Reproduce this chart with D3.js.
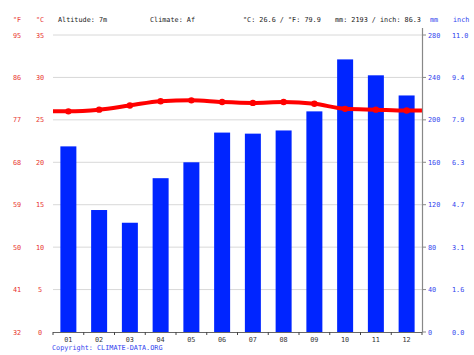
<!DOCTYPE html>
<html><head><meta charset="utf-8">
<script src="https://cdn.jsdelivr.net/npm/d3@7"></script>
<style>body{margin:0;background:#fff}svg{display:block}text{font-family:"DejaVu Sans Mono",monospace;font-size:6.8px}</style>
</head><body><svg id="c" width="474" height="355"></svg>
<script>
const months = ["01","02","03","04","05","06","07","08","09","10","11","12"];
const precipMm = [175,115,103,145,160,188,187,190,208,257,242,223];
const tempC = [26.0,26.2,26.7,27.2,27.3,27.1,27.0,27.1,26.9,26.3,26.2,26.1];
const cTicks = [0,5,10,15,20,25,30,35];
const fLabels = ["32","41","50","59","68","77","86","95"];
const mmTicks = [0,40,80,120,160,200,240,280];
const inchLabels = ["0.0","1.6","3.1","4.7","6.3","7.9","9.4","11.0"];

const svg = d3.select("#c");
const L = 53, R = 422, T = 35, B = 332;
const x = d3.scaleBand().domain(months).range([L, R]).paddingInner(0.48).paddingOuter(0.24);
const xc = d3.scalePoint().domain(months).range([L, R]).padding(0.5);
const yT = d3.scaleLinear().domain([0, 35]).range([B, T]);
const yP = d3.scaleLinear().domain([0, 280]).range([B, T]);
const red = "#e8352f", blue = "#3344ee";

// grid
svg.append("g").selectAll("line").data(cTicks.slice(1)).join("line")
  .attr("x1", L).attr("x2", R).attr("y1", d => yT(d)).attr("y2", d => yT(d))
  .attr("stroke", "#d8d8d8").attr("stroke-width", 1);

// bars
svg.append("g").selectAll("rect").data(precipMm).join("rect")
  .attr("x", (d, i) => x(months[i])).attr("width", x.bandwidth())
  .attr("y", d => yP(d)).attr("height", d => B - yP(d))
  .attr("fill", "#0025ff");

// temp line
const pts = tempC.map((d, i) => [xc(months[i]), yT(d)]);
const ext = [[L, yT(tempC[0])], ...pts, [R, yT(tempC[11])]];
svg.append("path").datum(ext)
  .attr("d", d3.line().curve(d3.curveMonotoneX))
  .attr("fill", "none").attr("stroke", "#ff0000").attr("stroke-width", 4);
svg.append("g").selectAll("circle").data(pts).join("circle")
  .attr("cx", d => d[0]).attr("cy", d => d[1]).attr("r", 3.2).attr("fill", "#ff0000");

// bottom axis
svg.append("line").attr("x1", L).attr("x2", R).attr("y1", B + 0.5).attr("y2", B + 0.5)
  .attr("stroke", "#666").attr("stroke-width", 1);
const bounds = d3.range(13).map(i => L + i * (R - L) / 12);
svg.append("g").selectAll("line").data(bounds).join("line")
  .attr("x1", d => d).attr("x2", d => d).attr("y1", B).attr("y2", B + 3)
  .attr("stroke", "#444");
svg.append("g").selectAll("text").data(months).join("text")
  .attr("x", d => xc(d)).attr("y", B + 10).attr("text-anchor", "middle")
  .attr("fill", "#333").text(d => d);

// right axis
svg.append("line").attr("x1", R + 0.5).attr("x2", R + 0.5).attr("y1", 28).attr("y2", B + 1)
  .attr("stroke", "#888").attr("stroke-width", 1.2);
svg.append("g").selectAll("line").data(mmTicks).join("line")
  .attr("x1", R).attr("x2", R + 4).attr("y1", d => yP(d)).attr("y2", d => yP(d))
  .attr("stroke", "#888");
svg.append("g").selectAll("text").data(mmTicks).join("text")
  .attr("x", 428).attr("y", d => yP(d) + 2.5).attr("fill", blue).text(d => d);
svg.append("g").selectAll("text").data(inchLabels).join("text")
  .attr("x", 452).attr("y", (d, i) => yP(mmTicks[i]) + 2.5).attr("fill", blue).text(d => d);

// left labels
svg.append("g").selectAll("text").data(cTicks).join("text")
  .attr("x", 40).attr("y", d => yT(d) + 2.5).attr("text-anchor", "middle").attr("fill", red).text(d => d);
svg.append("g").selectAll("text").data(fLabels).join("text")
  .attr("x", 17).attr("y", (d, i) => yT(cTicks[i]) + 2.5).attr("text-anchor", "middle").attr("fill", red).text(d => d);

// header
const hy = 22;
svg.append("text").attr("x", 17).attr("y", hy).attr("text-anchor", "middle").attr("fill", red).text("°F");
svg.append("text").attr("x", 40).attr("y", hy).attr("text-anchor", "middle").attr("fill", red).text("°C");
svg.append("text").attr("x", 58).attr("y", hy).attr("fill", "#222").text("Altitude: 7m");
svg.append("text").attr("x", 150).attr("y", hy).attr("fill", "#222").text("Climate: Af");
svg.append("text").attr("x", 243).attr("y", hy).attr("fill", "#222").text("°C: 26.6 / °F: 79.9");
svg.append("text").attr("x", 335).attr("y", hy).attr("fill", "#222").text("mm: 2193 / inch: 86.3");
svg.append("text").attr("x", 430).attr("y", hy).attr("fill", blue).text("mm");
svg.append("text").attr("x", 453).attr("y", hy).attr("fill", blue).text("inch");
svg.append("text").attr("x", 52).attr("y", 350).attr("fill", blue).text("Copyright: CLIMATE-DATA.ORG");
</script></body></html>
